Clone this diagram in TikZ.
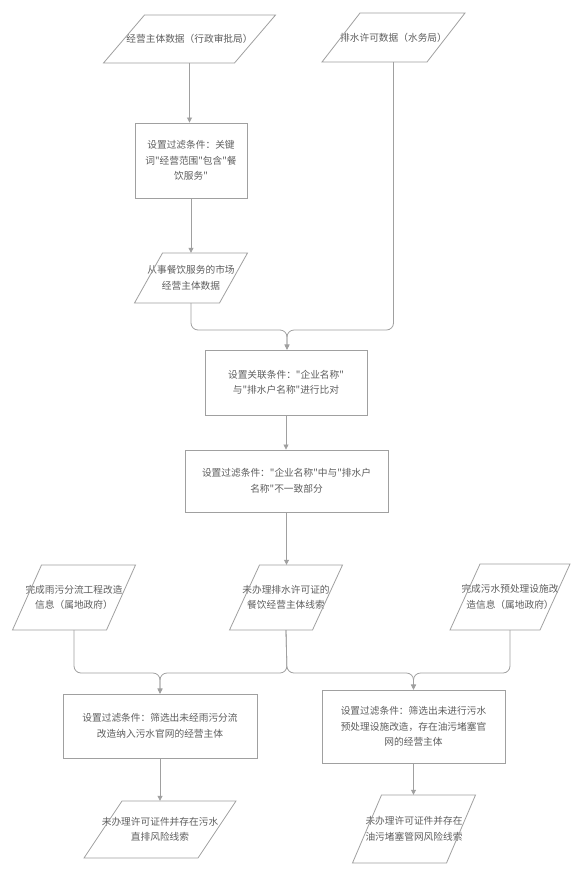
\documentclass[tikz,border=0pt]{standalone}
\usepackage{fontspec}
\newfontfamily\cjk{Noto Sans CJK SC}
\usetikzlibrary{calc,arrows.meta}
\definecolor{txt}{HTML}{5E5E5E}
\definecolor{ln}{HTML}{A0A0A0}
\tikzset{
  lbl/.style={font=\cjk\fontsize{9.7}{15.5}\selectfont, text=txt, align=center, inner sep=0pt},
  rbox/.style={lbl, draw=ln, line width=0.9pt},
  shp/.style={draw=ln, line width=0.8pt},
  arr/.style={draw=ln, line width=0.8pt, -{Triangle[length=5pt,width=5pt]}, rounded corners=7pt},
  con/.style={draw=ln, line width=0.8pt, rounded corners=7pt},
}
\newcommand\drawpara[4]{\draw[shp] ($(#1.center)+({-#2/2+#4/2},{-#3/2})$) -- ++(#2,0) -- ++({-#4},#3) -- ++(-#2,0) -- cycle;}
\begin{document}
\begin{tikzpicture}[x=1pt,y=-1pt]
\useasboundingbox[fill=white] (0,0) rectangle (584,871);
% parallelogram data nodes
\node[lbl, minimum height=48pt] (p1) at (189.5,39) {经营主体数据（行政审批局）};
\drawpara{p1}{131}{48}{41}
\node[lbl, minimum height=49pt] (p2) at (393.5,37.5) {排水许可数据（水务局）};
\drawpara{p2}{105}{49}{38}
\node[rbox, minimum width=112pt, minimum height=75pt] (r1) at (191,160.5) {设置过滤条件：关键\\词"经营范围"包含"餐\\饮服务"};
\node[lbl, minimum height=50pt] (p3) at (191,278) {从事餐饮服务的市场\\经营主体数据};
\drawpara{p3}{85}{50}{28}
\node[rbox, minimum width=162pt, minimum height=65pt] (r2) at (286,382.5) {设置关联条件："企业名称"\\与"排水户名称"进行比对};
\node[rbox, minimum width=203pt, minimum height=62pt] (r3) at (286.5,481) {设置过滤条件："企业名称"中与"排水户\\名称"不一致部分};
\node[lbl, minimum height=65pt] (p7) at (74,597.5) {完成雨污分流工程改造\\信息（属地政府）};
\drawpara{p7}{94}{65}{29}
\node[lbl, minimum height=65pt] (p8) at (286,597.5) {未办理排水许可证的\\餐饮经营主体线索};
\drawpara{p8}{83}{65}{30}
\node[lbl, minimum height=66pt] (p9) at (510,597) {完成污水预处理设施改\\造信息（属地政府）};
\drawpara{p9}{90}{66}{30}
\node[rbox, minimum width=194pt, minimum height=64pt] (r4) at (160,726) {设置过滤条件：筛选出未经雨污分流\\改造纳入污水官网的经营主体};
\node[rbox, minimum width=183pt, minimum height=73pt] (r5) at (413.5,726.5) {设置过滤条件：筛选出未进行污水\\预处理设施改造，存在油污堵塞官\\网的经营主体};
\node[lbl, minimum height=57pt] (p10) at (160,829.5) {未办理许可证件并存在污水\\直排风险线索};
\drawpara{p10}{114}{57}{38}
\node[lbl, minimum height=68pt] (p11) at (414,829) {未办理许可证件并存在\\油污堵塞管网风险线索};
\drawpara{p11}{94}{68}{29}
% connectors
\coordinate (m1) at (287,330);
\coordinate (m2) at (287,673);
\draw[arr] (p1.south) -- (p1.south |- r1.north);
\draw[arr] (r1.south) -- (r1.south |- p3.north);
\draw[arr] (p3.south) -- (p3.south |- m1) -- (m1) -- (m1 |- r2.north);
\draw[arr] (p2.south) -- (p2.south |- m1) -- (m1) -- (m1 |- r2.north);
\draw[arr] (r2.south) -- (r2.south |- r3.north);
\draw[arr] (r3.south) -- (r3.south |- p8.north);
\draw[arr] (p7.south) -- (p7.south |- m2) -- (r4.north |- m2) -- (r4.north);
\draw[arr] (p8.south) -- (m2) -- (r4.north |- m2) -- (r4.north);
\draw[arr] (p8.south) -- (m2) -- (r5.north |- m2) -- (r5.north);
\draw[arr] (p9.south) -- (p9.south |- m2) -- (r5.north |- m2) -- (r5.north);
\draw[arr] (r4.south) -- (r4.south |- p10.north);
\draw[arr] (r5.south) -- (r5.south |- p11.north);
\end{tikzpicture}
\end{document}
